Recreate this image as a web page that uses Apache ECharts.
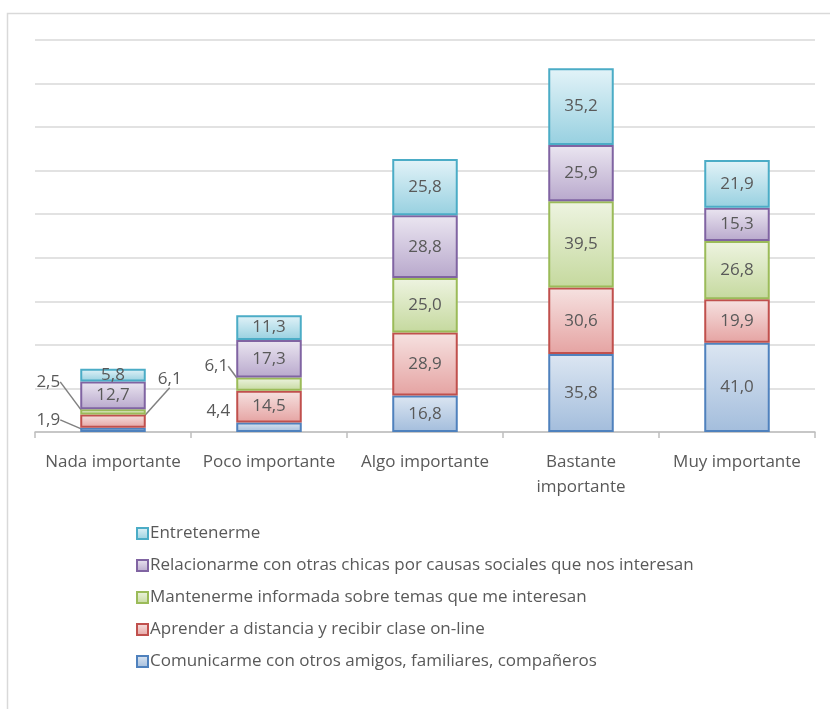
<!DOCTYPE html>
<html><head><meta charset="utf-8">
<script src="https://cdn.jsdelivr.net/npm/echarts@6/dist/echarts.min.js"></script>
<style>html,body{margin:0;padding:0;background:#fff}#c{width:830px;height:709px}</style>
</head><body><div id="c"></div>
<script>
const categories = ['Nada importante','Poco importante','Algo importante','Bastante importante','Muy importante'];
const seriesNames = [
  'Comunicarme con otros amigos, familiares, compañeros',
  'Aprender a distancia y recibir clase on-line',
  'Mantenerme informada sobre temas que me interesan',
  'Relacionarme con otras chicas por causas sociales que nos interesan',
  'Entretenerme'
];
const comunicarme = [1.9, 4.4, 16.8, 35.8, 41.0];
const aprender    = [6.1, 14.5, 28.9, 30.6, 19.9];
const mantenerme  = [2.5, 6.1, 25.0, 39.5, 26.8];
const relacionarme= [12.7, 17.3, 28.8, 25.9, 15.3];
const entretenerme= [5.8, 11.3, 25.8, 35.2, 21.9];
const values = [comunicarme, aprender, mantenerme, relacionarme, entretenerme];

const palette = [
  {border:'#4f81bd', top:'#dce6f2', bottom:'#a3bddc'},
  {border:'#c0504d', top:'#f6e2e1', bottom:'#e5a3a2'},
  {border:'#9bbb59', top:'#eef4e1', bottom:'#c5d99e'},
  {border:'#8064a2', top:'#ebe6f1', bottom:'#b8a8cc'},
  {border:'#4bacc6', top:'#e3f3f8', bottom:'#97d0e0'}
];
// outside labels (series, category) -> placement
const outside = {
  '0-0': {side:'left', dx:-20, dy:-10, line:true},
  '2-0': {side:'left', dx:-20, dy:-30, line:true},
  '1-0': {side:'right', dx:12, dy:-42, line:true},
  '0-1': {side:'left', dx:-6, dy:-16, line:false},
  '2-1': {side:'left', dx:-8, dy:-18, line:true}
};
const fmt = v => v.toFixed(1).replace('.', ',');
const FONT = 'Open Sans';

const series = values.map((arr, si) => ({
  name: seriesNames[si],
  type: 'bar',
  stack: 'total',
  barWidth: '42%',
  data: arr.map((v, ci) => {
    const o = outside[si + '-' + ci];
    return o ? {value: v, labelLine: {show: o.line}} : v;
  }),
  itemStyle: {
    borderColor: palette[si].border,
    borderWidth: 2,
    color: new echarts.graphic.LinearGradient(0,0,0,1,[
      {offset:0, color: palette[si].top},
      {offset:1, color: palette[si].bottom}
    ])
  },
  label: {
    show: true,
    position: 'inside',
    color: '#595959',
    fontFamily: FONT,
    fontSize: 17,
    formatter: p => fmt(p.value)
  },
  labelLine: {show: false, lineStyle: {color: '#808080', width: 1.5}},
  labelLayout: function (p) {
    const o = outside[p.seriesIndex + '-' + p.dataIndex];
    if (!o) return {};
    const r = p.rect;
    const cy = r.y + r.height / 2;
    if (o.side === 'left') {
      return {x: r.x + o.dx, y: cy + o.dy, align: 'right', verticalAlign: 'middle'};
    }
    return {x: r.x + r.width + o.dx, y: cy + o.dy, align: 'left', verticalAlign: 'middle'};
  }
}));

const chart = echarts.init(document.getElementById('c'));
chart.setOption({
  animation: false,
  backgroundColor: '#fff',
  graphic: [{
    type: 'rect', shape: {x: 7.5, y: 13.5, width: 900, height: 800},
    style: {fill: 'none', stroke: '#d9d9d9', lineWidth: 1.5}, silent: true, z: -10
  }],
  grid: {left: 35, right: 15, top: 40, bottom: 277},
  legend: {
    orient: 'vertical', left: 131, top: 520, itemGap: 15,
    itemWidth: 11, itemHeight: 11, icon: 'rect',
    data: seriesNames.slice().reverse(),
    textStyle: {color: '#595959', fontFamily: FONT, fontSize: 17, padding: [0,0,0,-3]}
  },
  xAxis: {
    type: 'category', data: categories,
    axisLine: {lineStyle: {color: '#bfbfbf', width: 1.5}},
    axisTick: {show: true, length: 6, lineStyle: {color: '#bfbfbf', width: 1.5}},
    axisLabel: {
      interval: 0,
      color: '#595959', fontFamily: FONT, fontSize: 17, margin: 18, lineHeight: 25,
      formatter: v => v === 'Bastante importante' ? 'Bastante\nimportante' : v
    }
  },
  yAxis: {
    type: 'value', min: 0, max: 180, interval: 20,
    axisLabel: {show: false}, axisLine: {show: false}, axisTick: {show: false},
    splitLine: {lineStyle: {color: '#d9d9d9', width: 1.5}}
  },
  series: series
});
</script></body></html>
